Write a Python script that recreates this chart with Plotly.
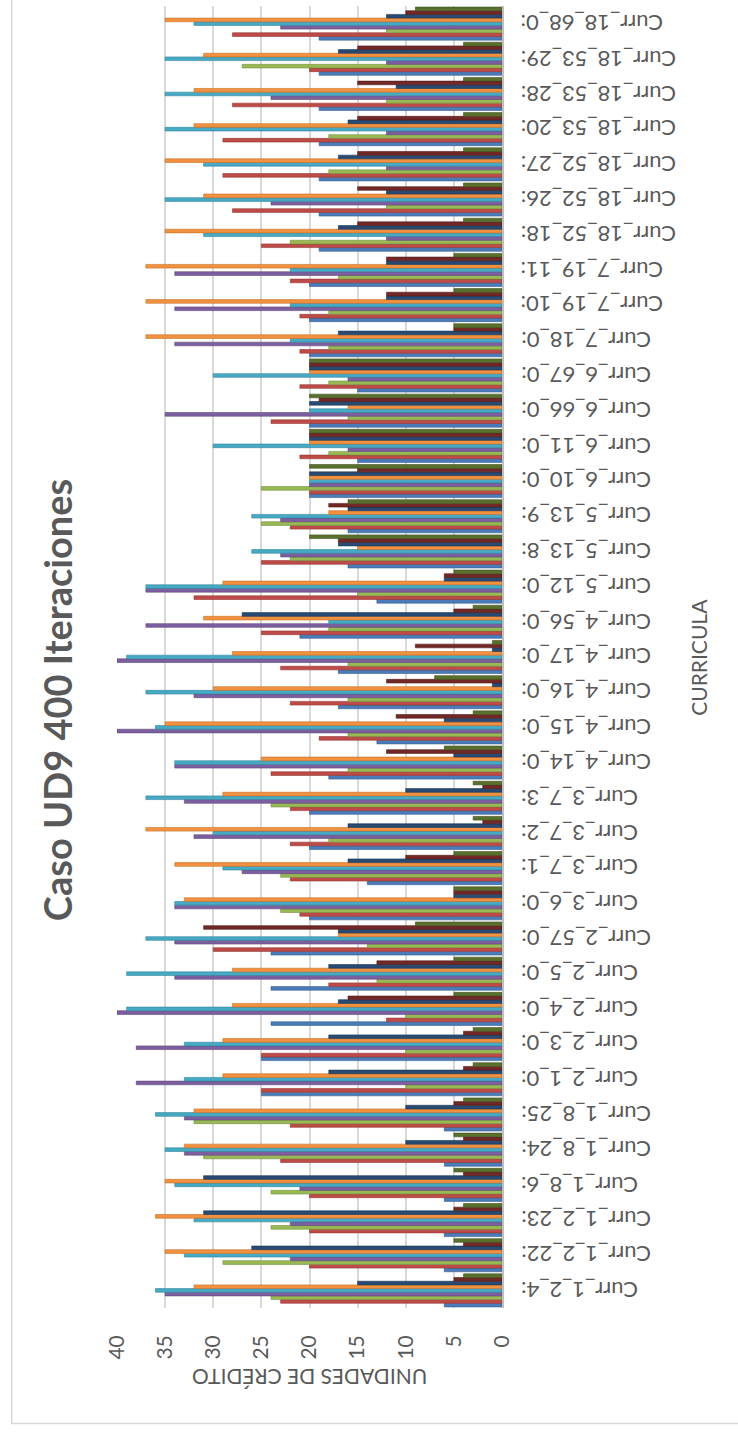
import plotly.graph_objects as go

# Curricula, listed bottom to top
categories = [
    "Curr_1_2_4:", "Curr_1_2_22:", "Curr_1_2_23:", "Curr_1_8_6:", "Curr_1_8_24:",
    "Curr_1_8_25:", "Curr_2_1_0:", "Curr_2_3_0:", "Curr_2_4_0:", "Curr_2_5_0:",
    "Curr_2_57_0:", "Curr_3_6_0:", "Curr_3_7_1:", "Curr_3_7_2:", "Curr_3_7_3:",
    "Curr_4_14_0:", "Curr_4_15_0:", "Curr_4_16_0:", "Curr_4_17_0:", "Curr_4_56_0:",
    "Curr_5_12_0:", "Curr_5_13_8:", "Curr_5_13_9:", "Curr_6_10_0:", "Curr_6_11_0:",
    "Curr_6_66_0:", "Curr_6_67_0:", "Curr_7_18_0:", "Curr_7_19_10:", "Curr_7_19_11:",
    "Curr_18_52_18:", "Curr_18_52_26:", "Curr_18_52_27:", "Curr_18_53_20:",
    "Curr_18_53_28:", "Curr_18_53_29:", "Curr_18_68_0:",
]

serie_1 = [6, 6, 6, 6, 6, 6, 25, 25, 24, 24, 24, 20, 14, 20, 20, 18, 13, 17, 17, 21,
           13, 16, 16, 20, 15, 20, 15, 20, 20, 20, 19, 19, 19, 19, 19, 19, 19]
serie_2 = [23, 20, 20, 20, 23, 22, 25, 25, 12, 18, 30, 21, 22, 22, 22, 24, 19, 22, 23, 25,
           32, 25, 22, 20, 21, 24, 21, 21, 21, 22, 25, 28, 29, 29, 28, 20, 28]
serie_3 = [24, 29, 24, 24, 31, 32, 10, 10, 10, 13, 14, 23, 23, 18, 24, 16, 16, 16, 16, 18,
           15, 22, 25, 25, 18, 16, 18, 18, 18, 17, 22, 12, 18, 18, 12, 27, 12]
serie_4 = [35, 22, 22, 21, 33, 33, 38, 38, 40, 34, 34, 34, 27, 32, 33, 34, 40, 32, 40, 37,
           37, 23, 23, 20, 16, 35, 16, 34, 34, 34, 12, 24, 12, 12, 24, 12, 23]
serie_5 = [36, 33, 32, 34, 35, 36, 33, 33, 39, 39, 37, 34, 29, 30, 37, 34, 36, 37, 39, 18,
           37, 26, 26, 20, 30, 20, 30, 22, 22, 22, 31, 35, 31, 35, 35, 35, 32]
serie_6 = [32, 35, 36, 35, 33, 32, 29, 29, 28, 28, 17, 33, 34, 37, 29, 25, 35, 30, 28, 31,
           29, 15, 18, 20, 20, 16, 20, 37, 37, 37, 35, 31, 35, 32, 32, 31, 35]
serie_7 = [15, 26, 31, 31, 10, 10, 18, 18, 17, 18, 17, 5, 16, 16, 10, 5, 6, 1, 1, 27,
           6, 17, 16, 20, 20, 20, 20, 17, 12, 12, 17, 12, 17, 16, 11, 17, 12]
serie_8 = [5, 4, 5, 4, 4, 5, 4, 4, 16, 13, 31, 5, 10, 2, 2, 12, 11, 12, 9, 5,
           6, 17, 18, 15, 20, 19, 20, 5, 12, 12, 15, 15, 15, 15, 15, 15, 10]
serie_9 = [4, 5, 4, 5, 5, 4, 3, 3, 5, 5, 9, 5, 5, 3, 3, 6, 3, 7, 1, 3,
           5, 20, 16, 20, 20, 20, 20, 5, 5, 5, 4, 4, 4, 4, 4, 4, 9]

series = [serie_1, serie_2, serie_3, serie_4, serie_5, serie_6, serie_7, serie_8, serie_9]
series_names = ["Serie1", "Serie2", "Serie3", "Serie4", "Serie5",
                "Serie6", "Serie7", "Serie8", "Serie9"]
colors = ["#4A7CBA", "#BE4B48", "#98B954", "#7D5FA0", "#46AAC5",
          "#F2913F", "#284A73", "#722827", "#5A712D"]
edge_colors = ["#36608F", "#933634", "#74903C", "#5E4679", "#33839A",
               "#C66E27", "#1C3554", "#511B1A", "#3F5020"]

title_text = "Caso UD9 400 Iteraciones"
value_axis_title = "UNIDADES DE CRÉDITO"
category_axis_title = "CURRICULA"

W, H = 738, 1432
PLOT_L, PLOT_R = 117.3, 502.5
PLOT_T, PLOT_B = 5.6, 1307.6
FONT = "Lato"
GREY = "#595959"


def px(x):
    return (x - PLOT_L) / (PLOT_R - PLOT_L)


def py(y):
    return (PLOT_B - y) / (PLOT_B - PLOT_T)


fig = go.Figure()
for name, vals, col, edge in zip(series_names, series, colors, edge_colors):
    fig.add_trace(go.Bar(
        x=vals, y=categories, orientation="h", name=name,
        marker=dict(color=col, line=dict(width=0.6, color=edge)),
    ))

annotations = []
# category labels, drawn upside down next to the base line
for cat in categories:
    annotations.append(dict(
        x=px(519), xref="paper", y=cat, yref="y",
        text=cat, textangle=180, showarrow=False,
        xanchor="left", yanchor="middle",
        font=dict(family=FONT, size=22, color=GREY),
    ))
annotations.append(dict(
    x=px(58), xref="paper", y=py(700), yref="paper",
    text="<b>" + title_text + "</b>", textangle=-90, showarrow=False,
    xanchor="center", yanchor="middle",
    font=dict(family=FONT, size=38, color=GREY),
))
annotations.append(dict(
    x=px(310), xref="paper", y=py(1377), yref="paper",
    text=value_axis_title, textangle=180, showarrow=False,
    xanchor="center", yanchor="middle",
    font=dict(family=FONT, size=21, color=GREY),
))
annotations.append(dict(
    x=px(699), xref="paper", y=py(657), yref="paper",
    text=category_axis_title, textangle=-90, showarrow=False,
    xanchor="center", yanchor="middle",
    font=dict(family=FONT, size=21, color=GREY),
))

fig.update_layout(
    width=W, height=H, autosize=False,
    margin=dict(l=PLOT_L, r=W - PLOT_R, t=PLOT_T, b=H - PLOT_B, pad=0),
    paper_bgcolor="white", plot_bgcolor="white",
    barmode="group", bargap=0.06, bargroupgap=0,
    showlegend=False,
    annotations=annotations,
    shapes=[dict(
        type="rect", xref="paper", yref="paper",
        x0=px(12), x1=px(760), y0=py(1423), y1=py(-20),
        line=dict(color="#D9D9D9", width=1.5), fillcolor="rgba(0,0,0,0)",
        layer="below",
    )],
)
fig.update_xaxes(
    range=[40, 0], dtick=5, tick0=0,
    showgrid=True, gridcolor="#D9D9D9", gridwidth=1.5,
    zeroline=False, showline=False,
    tickangle=-90, ticks="", ticklabelstandoff=22,
    tickfont=dict(family=FONT, size=21, color=GREY),
)
fig.update_yaxes(
    type="category", categoryorder="array", categoryarray=categories,
    range=[-0.5, len(categories) - 0.5],
    showticklabels=False, showgrid=False, zeroline=False,
    side="right", showline=True, linecolor="#BFBFBF", linewidth=2,
)

fig.write_html("out.html")
